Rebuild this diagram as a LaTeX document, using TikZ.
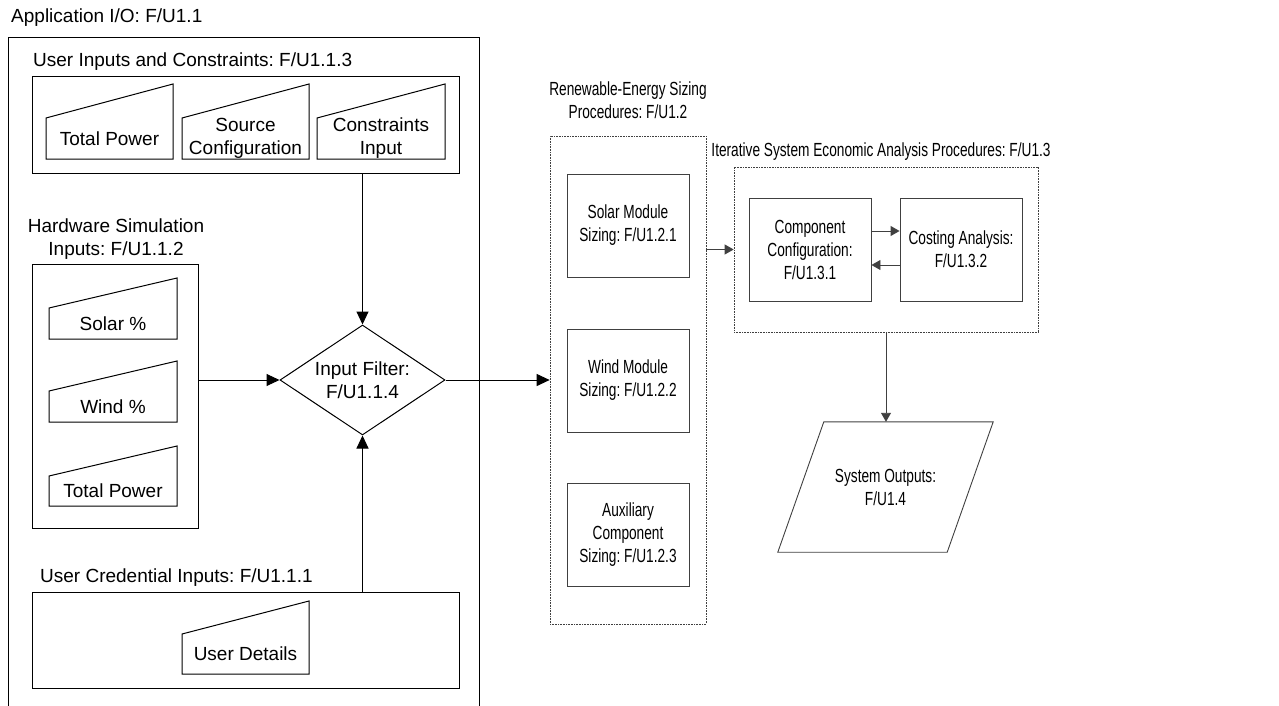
\documentclass[tikz,border=0pt]{standalone}
\usepackage{fontspec}
\setmainfont{Liberation Sans}
\newfontfamily\narrowsans[FakeStretch=0.72]{Liberation Sans}
\usetikzlibrary{arrows.meta,shapes.geometric}
\frenchspacing
\tikzset{
  base/.style={font=\frenchspacing\fontsize{19}{23}\selectfont, align=center, inner sep=0pt},
  narrow/.style={font=\frenchspacing\narrowsans\fontsize{19}{23}\selectfont, align=center, inner sep=0pt},
  lline/.style={draw=black, line width=1pt},
  rline/.style={draw=black!75, line width=0.9pt},
  dotbox/.style={draw=black!75, line width=0.7pt, dash pattern=on 0.8pt off 0.8pt},
  larrow/.style={lline, -{Triangle[length=13pt,width=12pt]}},
  rarrow/.style={rline, -{Triangle[length=9pt,width=10pt]}},
}
\newcommand{\manin}[7]{%
  \draw[lline] (#2,#6) -- (#2,#4) -- (#3,#5) -- (#3,#6) -- cycle;
  \node[base] (#1) at ({(#2+#3)/2},{(#4+#6)/2}) {#7};
}
\begin{document}
\begin{tikzpicture}[x=1pt,y=-1pt]
\useasboundingbox (0,0) rectangle (1279,706);

% Application I/O outer frame (open at bottom)
\node[base, anchor=west] (applbl) at (11,18) {Application I/O: F/U1.1};
\draw[lline] (8,706) -- (8,38) -- (479,38) -- (479,706);

% User inputs and constraints
\node[base, anchor=west] (uiclbl) at (33,62) {User Inputs and Constraints: F/U1.1.3};
\node[lline, minimum width=427pt, minimum height=96pt] (uic) at (245.5,125) {};
\manin{tp1}{46}{173}{118}{84}{159}{Total Power}
\manin{srccfg}{182}{309}{118}{84}{159}{Source\\Configuration}
\manin{cons}{317}{445}{118}{84}{159}{Constraints\\Input}

% Hardware simulation inputs
\node[base] (hwlbl) at (116,239) {Hardware Simulation\\Inputs: F/U1.1.2};
\node[lline, minimum width=166pt, minimum height=264pt] (hw) at (115,396) {};
\manin{solar}{49}{177}{308}{278}{339}{Solar \%}
\manin{wind}{49}{177}{391}{361}{422}{Wind \%}
\manin{tp2}{49}{177}{476}{446}{506}{Total Power}

% User credential inputs
\node[base, anchor=west] (credlbl) at (40,578) {User Credential Inputs: F/U1.1.1};
\node[lline, minimum width=427pt, minimum height=96pt] (cred) at (245.5,640) {};
\manin{udet}{182}{309}{634}{601}{674}{User Details}

% Input filter
\node[base, lline, diamond, aspect=1.5, minimum width=165pt, minimum height=110pt] (filter) at (362.5,380) {Input Filter:\\F/U1.1.4};

% Renewable energy sizing
\node[narrow] (renlbl) at (628,100.5) {Renewable-Energy Sizing\\Procedures: F/U1.2};
\node[dotbox, minimum width=156pt, minimum height=488pt] (renew) at (628,380) {};
\node[narrow, rline, minimum width=122pt, minimum height=103pt] (solmod) at (628,225.5) {Solar Module\\Sizing: F/U1.2.1};
\node[narrow, rline, minimum width=122pt, minimum height=103pt] (windmod) at (628,380.5) {Wind Module\\Sizing: F/U1.2.2};
\node[narrow, rline, minimum width=122pt, minimum height=103pt] (auxmod) at (628,534.5) {Auxiliary\\Component\\Sizing: F/U1.2.3};

% Iterative economic analysis
\node[narrow] (iterlbl) at (881,152) {Iterative System Economic Analysis Procedures: F/U1.3};
\node[dotbox, minimum width=304pt, minimum height=165pt] (iter) at (886,249.5) {};
\node[narrow, rline, minimum width=122pt, minimum height=103pt] (comp) at (810,249.5) {Component\\Configuration:\\F/U1.3.1};
\node[narrow, rline, minimum width=122pt, minimum height=103pt] (cost) at (961,249.5) {Costing Analysis:\\F/U1.3.2};

% System outputs
\node[narrow, minimum width=169pt, minimum height=130pt] (outp) at (885.5,487) {System Outputs:\\F/U1.4};
\draw[rline] ([xshift=23pt]outp.north west) -- ([xshift=23pt]outp.north east)
  -- ([xshift=-23pt]outp.south east) -- ([xshift=-23pt]outp.south west) -- cycle;

% Connectors
\draw[larrow] (filter.north |- uic.south) -- (filter.north);
\draw[larrow] (hw.east |- filter.west) -- (filter.west);
\draw[larrow] (filter.south |- cred.north) -- (filter.south);
\draw[larrow] (filter.east) -- (filter.east -| renew.west);
\draw[rarrow] (renew.east |- iter.west) -- (iter.west);
\draw[rarrow] ([yshift=18.5pt]comp.east) -- ([yshift=18.5pt]cost.west);
\draw[rarrow] ([yshift=-15.5pt]cost.west) -- ([yshift=-15.5pt]comp.east);
\draw[rarrow] (iter.south) -- (iter.south |- outp.north);
\end{tikzpicture}
\end{document}
